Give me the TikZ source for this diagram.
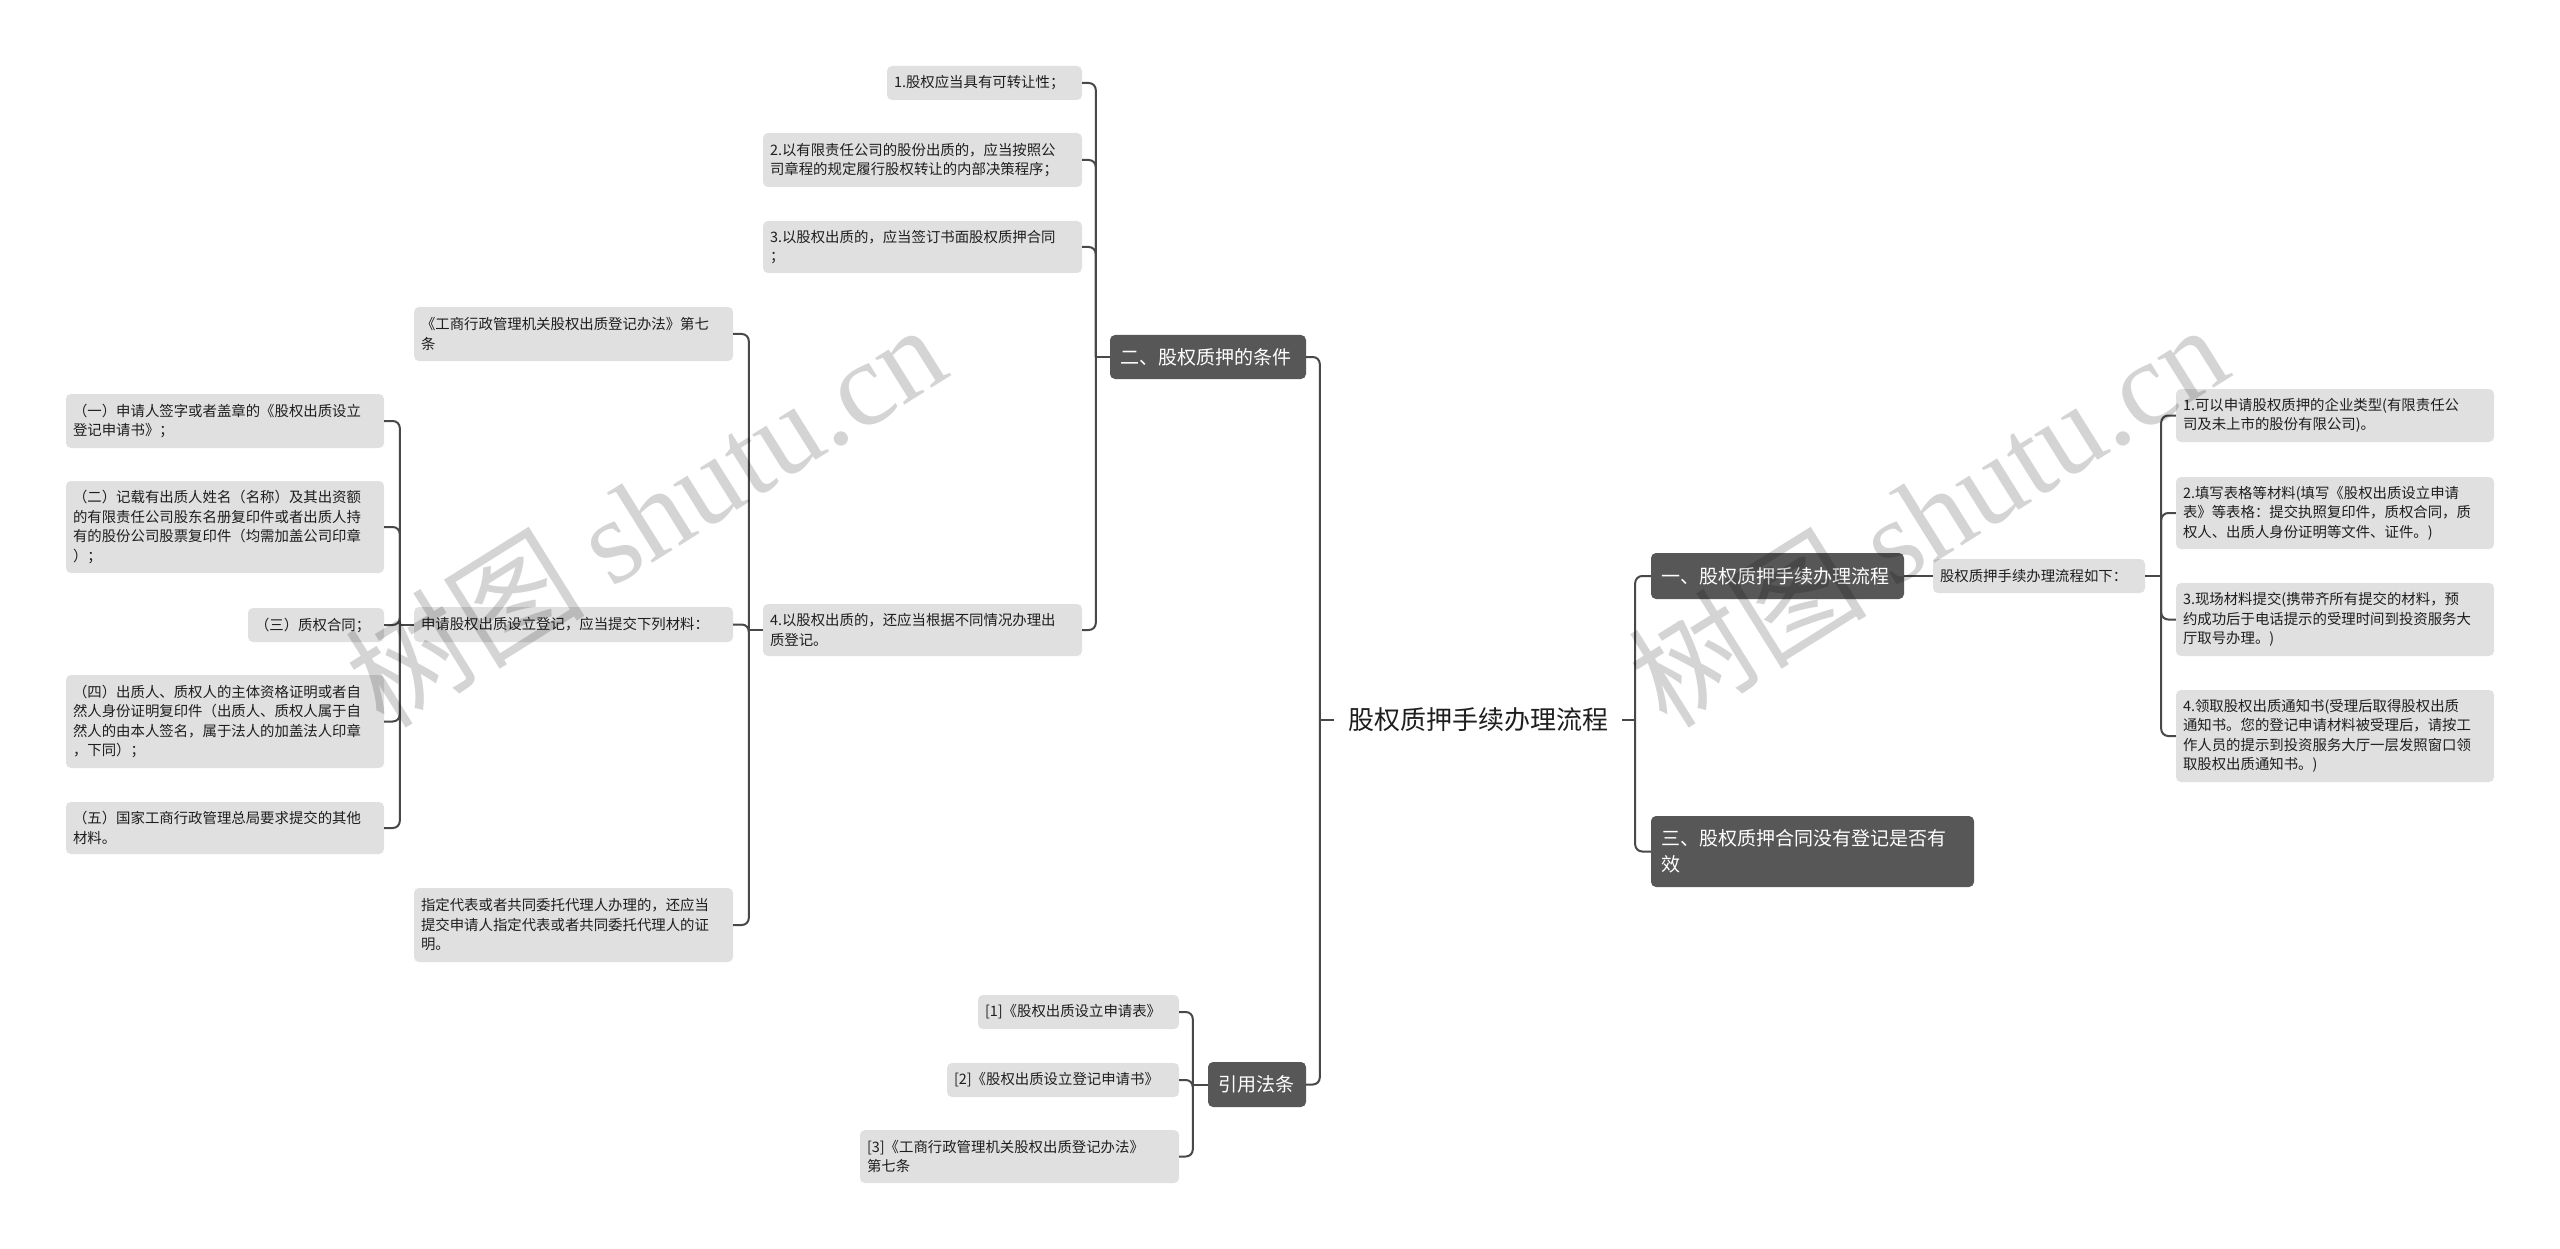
\documentclass[tikz,border=0pt]{standalone}
\usepackage{fontspec}
\setmainfont{Noto Sans CJK SC}
\newfontfamily\wmserif{Liberation Serif}
\definecolor{lightbox}{RGB}{224,224,224}
\definecolor{darkbox}{RGB}{87,87,87}
\definecolor{linecol}{RGB}{72,72,72}
\definecolor{txt}{RGB}{30,30,30}
\hbadness=10000 \hfuzz=50pt
\tikzset{
  lbox/.style={fill=lightbox, rounded corners=5pt, inner xsep=7pt, inner ysep=0pt, align=left, text=txt,
    font=\fontsize{14.4pt}{19.5pt}\selectfont},
  dbox/.style={fill=darkbox, rounded corners=5pt, inner xsep=10pt, inner ysep=0pt, align=left, text=white,
    font=\fontsize{19pt}{26pt}\selectfont},
  rootnode/.style={inner xsep=14pt, inner ysep=4pt, text=txt, font=\fontsize{26pt}{30pt}\selectfont},
  conn/.style={draw=linecol, line width=2pt},
  elbow/.style={conn, rounded corners=7pt},
  wmark/.style={text=black, opacity=0.17, inner sep=0pt, font=\fontsize{120pt}{120pt}\selectfont},
}
% style, name, x1, y1, x2, y2, padding, text
\newcommand\bx[8]{%
  \pgfmathsetmacro\mycx{(#3+#5)/2}%
  \pgfmathsetmacro\mycy{(#4+#6)/2}%
  \pgfmathsetmacro\myw{#5-#3}%
  \pgfmathsetmacro\myh{#6-#4}%
  \pgfmathsetmacro\mytw{#5-#3-#7}%
  \node[#1, minimum width=\myw pt, minimum height=\myh pt, text width=\mytw pt] (#2) at (\mycx,\mycy) {#8};}
% left-going branch: parent, stub, children
\newcommand\lkids[3]{%
  \draw[conn] (#1.west) -- ++(-#2,0);
  \foreach \c in {#3}{\draw[elbow] (#1.west) ++(-#2,0) |- (\c.east);}}
\newcommand\rkids[3]{%
  \draw[conn] (#1.east) -- ++(#2,0);
  \foreach \c in {#3}{\draw[elbow] (#1.east) ++(#2,0) |- (\c.west);}}
\begin{document}
\begin{tikzpicture}[x=1pt,y=-1pt]
\fill[white] (0,0) rectangle (2560,1249);
\useasboundingbox (0,0) rectangle (2560,1249);

\node[rootnode] (root) at (1478,720) {股权质押手续办理流程};

% level 1
\bx{dbox}{L2}{1110}{335}{1306}{379}{20}{二、股权质押的条件}
\bx{dbox}{L3}{1208}{1062}{1306}{1107}{20}{引用法条}
\bx{dbox}{R1}{1651}{553}{1904}{599}{20}{一、股权质押手续办理流程}
\bx{dbox}{R3}{1651}{816}{1974}{887}{20}{三、股权质押合同没有登记是否有\\效}

% right side
\bx{lbox}{R1a}{1933}{559}{2145}{593}{14}{股权质押手续办理流程如下：}
\bx{lbox}{I1}{2176}{389}{2494}{442}{14}{1.可以申请股权质押的企业类型(有限责任公\\司及未上市的股份有限公司)。}
\bx{lbox}{I2}{2176}{477}{2494}{549}{14}{2.填写表格等材料(填写《股权出质设立申请\\表》等表格：提交执照复印件，质权合同，质\\权人、出质人身份证明等文件、证件。)}
\bx{lbox}{I3}{2176}{583}{2494}{656}{14}{3.现场材料提交(携带齐所有提交的材料，预\\约成功后于电话提示的受理时间到投资服务大\\厅取号办理。)}
\bx{lbox}{I4}{2176}{690}{2494}{782}{14}{4.领取股权出质通知书(受理后取得股权出质\\通知书。您的登记申请材料被受理后，请按工\\作人员的提示到投资服务大厅一层发照窗口领\\取股权出质通知书。)}

% conditions
\bx{lbox}{C1}{887}{66}{1082}{100}{14}{1.股权应当具有可转让性；}
\bx{lbox}{C2}{763}{133}{1082}{187}{14}{2.以有限责任公司的股份出质的，应当按照公\\司章程的规定履行股权转让的内部决策程序；}
\bx{lbox}{C3}{763}{221}{1082}{273}{14}{3.以股权出质的，应当签订书面股权质押合同\\；}
\bx{lbox}{C4}{763}{604}{1082}{656}{14}{4.以股权出质的，还应当根据不同情况办理出\\质登记。}

\bx{lbox}{D1}{414}{307}{733}{361}{14}{《工商行政管理机关股权出质登记办法》第七\\条}
\bx{lbox}{D2}{414}{607}{733}{642}{14}{申请股权出质设立登记，应当提交下列材料：}
\bx{lbox}{D3}{414}{888}{733}{962}{14}{指定代表或者共同委托代理人办理的，还应当\\提交申请人指定代表或者共同委托代理人的证\\明。}

\bx{lbox}{E1}{66}{394}{384}{448}{14}{（一）申请人签字或者盖章的《股权出质设立\\登记申请书》；}
\bx{lbox}{E2}{66}{481}{384}{573}{14}{（二）记载有出质人姓名（名称）及其出资额\\的有限责任公司股东名册复印件或者出质人持\\有的股份公司股票复印件（均需加盖公司印章\\）；}
\bx{lbox}{E3}{248}{608}{384}{642}{14}{（三）质权合同；}
\bx{lbox}{E4}{66}{675}{384}{768}{14}{（四）出质人、质权人的主体资格证明或者自\\然人身份证明复印件（出质人、质权人属于自\\然人的由本人签名，属于法人的加盖法人印章\\，下同）；}
\bx{lbox}{E5}{66}{802}{384}{854}{14}{（五）国家工商行政管理总局要求提交的其他\\材料。}

\bx{lbox}{F1}{978}{995}{1179}{1029}{14}{[1]《股权出质设立申请表》}
\bx{lbox}{F2}{947}{1063}{1179}{1097}{14}{[2]《股权出质设立登记申请书》}
\bx{lbox}{F3}{860}{1130}{1179}{1183}{14}{[3]《工商行政管理机关股权出质登记办法》\\第七条}

% connectors
\lkids{root}{14}{L2,L3}
\rkids{root}{13}{R1,R3}
\draw[conn] (R1.east) -- (R1a.west);
\rkids{R1a}{16}{I1,I2,I3,I4}
\lkids{L2}{14}{C1,C2,C3,C4}
\lkids{C4}{14}{D1,D2,D3}
\lkids{D2}{14}{E1,E2,E3,E4,E5}
\lkids{L3}{15}{F1,F2,F3}

% watermarks
\node[wmark, rotate=32] (wm1) at (645,514) {树图 {\wmserif shutu.cn}};
\node[wmark, rotate=32] (wm2) at (1927,514) {树图 {\wmserif shutu.cn}};
\end{tikzpicture}
\end{document}
